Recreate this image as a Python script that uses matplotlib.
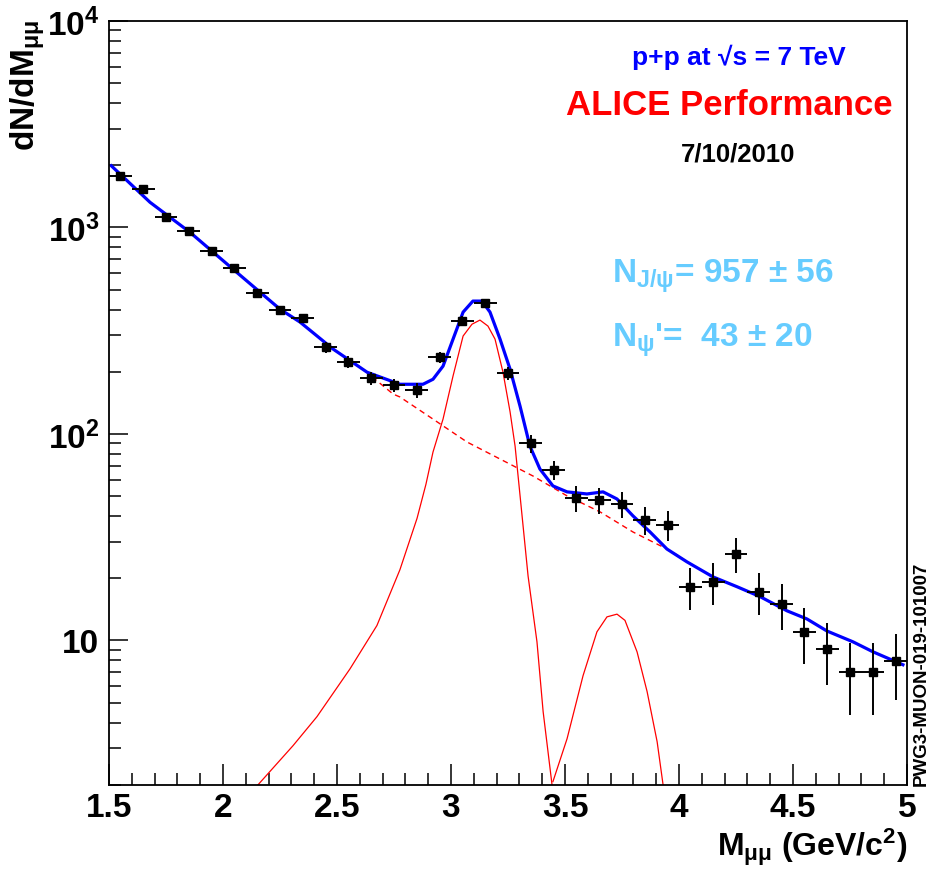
import matplotlib
matplotlib.use("Agg")
import matplotlib.pyplot as plt
from matplotlib.ticker import FixedLocator, LogLocator, NullFormatter, FixedFormatter, MultipleLocator

# Fonty - ROOT styl (Helvetica bold)
plt.rcParams['font.family'] = ['Liberation Sans', 'DejaVu Sans']
plt.rcParams['font.weight'] = 'bold'
plt.rcParams['mathtext.fontset'] = 'custom'
plt.rcParams['mathtext.rm'] = 'Liberation Sans:bold'
plt.rcParams['mathtext.it'] = 'Liberation Sans:bold'
plt.rcParams['mathtext.bf'] = 'Liberation Sans:bold'
plt.rcParams['mathtext.sf'] = 'Liberation Sans:bold'

# Data - invariantni hmotnost mion paru
mass = [1.55, 1.65, 1.75, 1.85, 1.95, 2.05, 2.15, 2.25, 2.35, 2.45,
        2.55, 2.65, 2.75, 2.85, 2.95, 3.05, 3.15, 3.25, 3.35, 3.45,
        3.55, 3.65, 3.75, 3.85, 3.95, 4.05, 4.15, 4.25, 4.35, 4.45,
        4.55, 4.65, 4.75, 4.85, 4.95]
counts = [1770, 1530, 1130, 958, 767, 635, 481, 398, 364, 263,
          223, 186, 172, 163, 235, 352, 430, 197, 90, 66.8,
          49, 47.9, 45.7, 38.3, 36.2, 18.2, 19.2, 26.2, 17.2, 15.0,
          11.0, 9.1, 7.05, 7.05, 7.96]
count_err = [42, 39, 34, 31, 28, 25, 22, 20, 19, 16,
             15, 14, 13, 13, 15, 19, 21, 14, 9, 7,
             7, 7, 6.5, 6, 6, 4.2, 4.4, 5, 4, 3.8,
             3.3, 3.0, 2.7, 2.7, 2.8]
bin_half = 0.05

# Celkovy fit (modra)
fit_x = [1.51, 1.68, 1.855, 2.044, 2.25, 2.338, 2.482, 2.632, 2.776, 2.877,
         2.921, 2.965, 3.009, 3.053, 3.096, 3.136, 3.171, 3.215, 3.259, 3.303,
         3.346, 3.390, 3.447, 3.509, 3.596, 3.667, 3.728, 3.798, 3.873, 3.947,
         4.035, 4.149, 4.254, 4.355, 4.474, 4.561, 4.649, 4.763, 4.851, 4.982]
fit_y = [1990, 1324, 948, 628, 402, 348, 258, 199, 174, 174,
         184, 213, 288, 389, 440, 440, 389, 288, 206, 136,
         87.3, 67.6, 56, 52.4, 51.2, 52.4, 48.4, 40.1, 33.5, 27.7,
         24.0, 20.3, 18.2, 16.3, 13.9, 12.7, 11.1, 9.84, 8.8, 7.62]

# Pozadi (carkovana cervena)
bkg_x = [2.48, 2.601, 2.746, 2.776, 2.921, 3.070, 3.215, 3.360, 3.509, 3.654,
         3.798, 3.947, 4.004, 4.035]
bkg_y = [258, 211, 156, 151, 118, 91.4, 75.6, 62.5, 50.1, 41.9,
         33.5, 27.7, 25.4, 24.0]

# J/psi signal
jpsi_x = [2.154, 2.307, 2.412, 2.557, 2.675, 2.776, 2.851, 2.890, 2.921, 2.965,
          3.009, 3.053, 3.092, 3.127, 3.162, 3.193, 3.228, 3.259, 3.281, 3.303,
          3.338, 3.377, 3.404, 3.443]
jpsi_y = [2.0, 3.09, 4.27, 7.28, 11.8, 22, 39, 57, 81.7, 118,
          191, 298, 340, 356, 333, 288, 199, 128, 87.3, 50,
          20.5, 9.84, 4.52, 2.0]

# psi(2S) signal
psi2_x = [3.447, 3.509, 3.579, 3.640, 3.684, 3.728, 3.763, 3.816, 3.860, 3.904, 3.930]
psi2_y = [2.07, 3.34, 6.74, 11.0, 13.0, 13.4, 12.5, 8.8, 5.65, 3.23, 2.0]

fig = plt.figure(figsize=(9.3, 8.7), dpi=100)
ax = fig.add_axes([0.1172, 0.0969, 0.8581, 0.8778])

ax.plot(bkg_x, bkg_y, color='red', lw=1.0, ls=(0, (4, 3)))
ax.plot(jpsi_x, jpsi_y, color='red', lw=0.9)
ax.plot(psi2_x, psi2_y, color='red', lw=0.9)
ax.plot(fit_x, fit_y, color='blue', lw=2.3)
ax.errorbar(mass, counts, xerr=bin_half, yerr=count_err, fmt='s', color='black',
            ms=6, elinewidth=1.4, capsize=0)

ax.set_yscale('log')
ax.set_xlim(1.5, 5)
ax.set_ylim(2, 1e4)

ax.xaxis.set_major_locator(FixedLocator([1.5, 2, 2.5, 3, 3.5, 4, 4.5, 5]))
ax.xaxis.set_major_formatter(FixedFormatter(['1.5', '2', '2.5', '3', '3.5', '4', '4.5', '5']))
ax.xaxis.set_minor_locator(MultipleLocator(0.1))

ax.yaxis.set_major_locator(FixedLocator([10, 100, 1000, 10000]))
ax.yaxis.set_major_formatter(FixedFormatter(['10', '$10^{2}$', '$10^{3}$', '$10^{4}$']))
ax.yaxis.set_minor_locator(LogLocator(base=10, subs=range(2, 10)))
ax.yaxis.set_minor_formatter(NullFormatter())

ax.tick_params(which='both', direction='in', top=False, right=False, width=1.1)
ax.tick_params(axis='x', which='major', length=15, pad=5, labelsize=24)
ax.tick_params(axis='x', which='minor', length=8.5)
ax.tick_params(axis='y', which='major', length=14, pad=7, labelsize=24)
ax.tick_params(axis='y', which='minor', length=8.5)
for s in ax.spines.values():
    s.set_linewidth(1.3)

fig.text(0.9753, 0.016, 'M$_{μμ}$ (GeV/c$^{2}$)', ha='right', va='baseline', fontsize=23)
fig.text(0.030, 0.977, 'dN/dM$_{μμ}$', ha='center', va='top', rotation=90, fontsize=24)

fig.text(0.795, 0.9253, 'p+p at √s = 7 TeV', color='blue', ha='center', va='baseline', fontsize=19)
fig.text(0.784, 0.8678, 'ALICE Performance', color='red', ha='center', va='baseline', fontsize=25)
fig.text(0.794, 0.8138, '7/10/2010', color='black', ha='center', va='baseline', fontsize=18.5)
fig.text(0.658, 0.6747, 'N$_{J/ψ}$= 957 ± 56', color='#66ccff', ha='left', va='baseline', fontsize=24)
fig.text(0.658, 0.6011, "N$_{ψ}$'=  43 ± 20", color='#66ccff', ha='left', va='baseline', fontsize=24)
fig.text(0.991, 0.097, 'PWG3-MUON-019-101007', rotation=90, ha='center', va='bottom', fontsize=13.5)

fig.savefig('out.png', dpi=100)
